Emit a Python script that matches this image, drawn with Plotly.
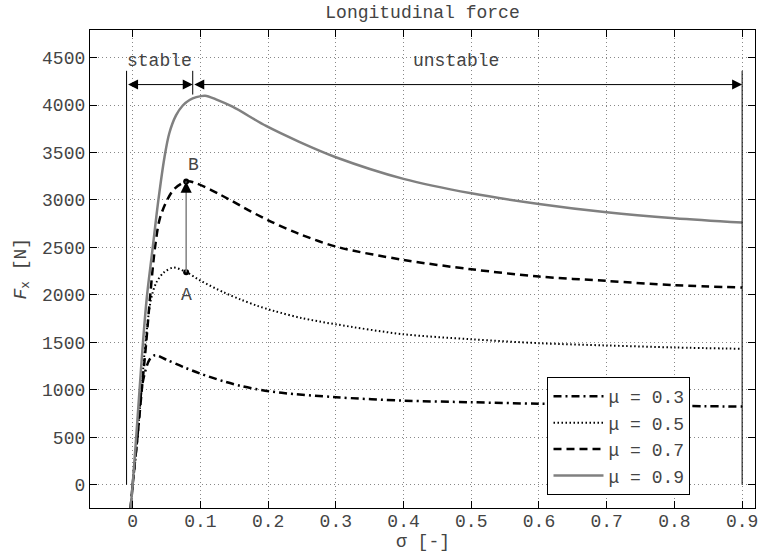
import plotly.graph_objects as go

# slip ratio / longitudinal force
sigma_mu03 = [-0.003, 0, 0.007, 0.013, 0.018, 0.025, 0.033, 0.05, 0.075, 0.1, 0.135, 0.16, 0.184,
              0.22, 0.3, 0.4, 0.5, 0.6, 0.7, 0.8, 0.9]
force_mu03 = [-250, 0, 500, 1000, 1180, 1320, 1365, 1316, 1240, 1170, 1088, 1040, 1005,
              968, 922, 886, 869, 853, 842, 831, 823]

sigma_mu05 = [-0.003, 0, 0.007, 0.013, 0.019, 0.027, 0.035, 0.046, 0.06, 0.079, 0.1, 0.135, 0.16,
              0.184, 0.209, 0.25, 0.3, 0.4, 0.5, 0.6, 0.7, 0.8, 0.9]
force_mu05 = [-250, 0, 500, 1000, 1500, 1950, 2130, 2235, 2287, 2240, 2150, 2025, 1950,
              1885, 1830, 1755, 1690, 1585, 1533, 1491, 1467, 1446, 1432]

sigma_mu07 = [-0.003, 0, 0.007, 0.0135, 0.02, 0.026, 0.033, 0.04, 0.051, 0.062, 0.08, 0.094, 0.13,
              0.175, 0.204, 0.245, 0.3, 0.4, 0.5, 0.6, 0.7, 0.8, 0.9]
force_mu07 = [-250, 0, 500, 1000, 1500, 2000, 2500, 2800, 3000, 3120, 3195, 3175, 3053,
              2877, 2772, 2645, 2509, 2368, 2270, 2193, 2147, 2102, 2077]

sigma_mu09 = [-0.003, 0, 0.005, 0.01, 0.015, 0.021, 0.029, 0.038, 0.047, 0.054, 0.064, 0.074, 0.084,
              0.094, 0.107, 0.123, 0.1475, 0.197, 0.246, 0.3, 0.4, 0.5, 0.6, 0.7, 0.8, 0.9]
force_mu09 = [-250, 0, 480, 980, 1480, 1980, 2460, 3000, 3450, 3700, 3890, 3995, 4053,
              4083, 4098, 4060, 3982, 3779, 3612, 3450, 3222, 3070, 2958, 2870, 2807, 2761]

# points A and B
pt_sigma = [0.079, 0.079]
pt_force = [2239, 3193]

x_ticks = [0, 0.1, 0.2, 0.3, 0.4, 0.5, 0.6, 0.7, 0.8, 0.9]
x_ticktext = ["0", "0.1", "0.2", "0.3", "0.4", "0.5", "0.6", "0.7", "0.8", "0.9"]
y_ticks = [0, 500, 1000, 1500, 2000, 2500, 3000, 3500, 4000, 4500]

sigma_left = -0.009
sigma_crit = 0.0887
sigma_right = 0.9
arrow_force = 4215
line_top = 4360

FONT = "Liberation Mono, Courier New, monospace"
TXT = "#444444"

fig = go.Figure()

curves = [
    (sigma_mu03, force_mu03, "μ = 0.3", dict(color="black", width=2.5, dash="8px,4px,2px,4px")),
    (sigma_mu05, force_mu05, "μ = 0.5", dict(color="black", width=2, dash="1.5px,2.5px")),
    (sigma_mu07, force_mu07, "μ = 0.7", dict(color="black", width=2.5, dash="8px,5px")),
    (sigma_mu09, force_mu09, "μ = 0.9", dict(color="#808080", width=2.5)),
]
for i, (sx, fy, name, line) in enumerate(curves):
    fig.add_trace(go.Scatter(x=sx, y=fy, mode="lines", name=name, legendgroup=str(i),
                             line=dict(shape="spline", smoothing=0.9, **line)))

# vertical limit lines
for sx, y0 in [(sigma_left, 0), (sigma_crit, 4110), (sigma_right, 0)]:
    fig.add_shape(type="line", x0=sx, x1=sx, y0=y0, y1=line_top, xref="x", yref="y",
                  line=dict(color="black", width=1))

# A -> B
fig.add_shape(type="line", x0=pt_sigma[0], x1=pt_sigma[1], y0=pt_force[0], y1=pt_force[1],
              xref="x", yref="y", line=dict(color="#808080", width=1.5))
fig.add_trace(go.Scatter(x=pt_sigma, y=pt_force, mode="markers", showlegend=False,
                         marker=dict(color="black", size=6)))

anns = []
for x_end, x_start in [(sigma_crit, sigma_left), (sigma_right, sigma_crit)]:
    anns.append(dict(x=x_end, y=arrow_force, ax=x_start, ay=arrow_force,
                     xref="x", yref="y", axref="x", ayref="y", text="", showarrow=True,
                     arrowhead=2, startarrowhead=2, arrowside="end+start", arrowsize=2,
                     arrowwidth=1, arrowcolor="black"))
anns.append(dict(x=pt_sigma[1], y=pt_force[1], xref="x", yref="y", ax=0, ay=12, text="",
                 showarrow=True, arrowhead=2, arrowsize=1.5, arrowwidth=1.5, arrowcolor="black"))

labels = [
    ("stable", 0.040, 4463),
    ("unstable", 0.477, 4463),
    ("A", 0.079, 2000),
    ("B", 0.09, 3370),
]
for text, sx, fy in labels:
    anns.append(dict(x=sx, y=fy, xref="x", yref="y", text=text, showarrow=False,
                     font=dict(family=FONT, size=18, color=TXT)))

anns.append(dict(x=0.5, y=-0.071, xref="paper", yref="paper", text="σ [-]", showarrow=False,
                 xanchor="center", yanchor="middle", font=dict(family=FONT, size=18, color=TXT)))
anns.append(dict(x=-0.103, y=0.5, xref="paper", yref="paper", text="<i>F</i><sub>x</sub> [N]",
                 textangle=-90, showarrow=False, xanchor="center", yanchor="middle",
                 font=dict(family=FONT, size=18, color=TXT)))

axis_style = dict(showline=True, linecolor="black", linewidth=1.3, mirror="ticks",
                  ticks="inside", ticklen=7, tickcolor="black", showgrid=True,
                  gridcolor="#888888", griddash="1px,3px", gridwidth=1, zeroline=False,
                  tickfont=dict(family=FONT, size=18, color=TXT))

fig.update_layout(
    width=761, height=552,
    margin=dict(l=90, r=3, t=30, b=44),
    paper_bgcolor="white", plot_bgcolor="white",
    title=dict(text="Longitudinal force", x=0.5, xref="paper", xanchor="center",
               y=0.978, yanchor="middle", font=dict(family=FONT, size=18, color=TXT)),
    xaxis=dict(range=[-0.063, 0.919], tickvals=x_ticks, ticktext=x_ticktext,
               ticklabelstandoff=-4, ticklabeloverflow="allow", **axis_style),
    yaxis=dict(range=[-245, 4790], tickvals=y_ticks, **axis_style),
    legend=dict(x=0.903, y=0.027, xanchor="right", yanchor="bottom", bgcolor="white",
                bordercolor="black", borderwidth=1, tracegroupgap=0, itemwidth=50,
                font=dict(family=FONT, size=18, color=TXT)),
    annotations=anns,
)

fig.write_html("out.html", config={"displayModeBar": False},
               post_script="document.body.style.margin='0px';")
